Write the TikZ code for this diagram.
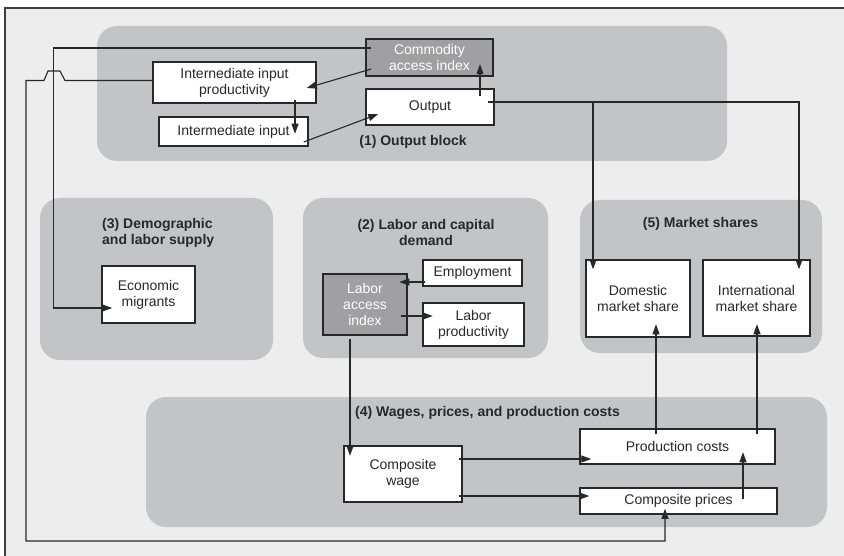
\documentclass[tikz,border=0pt]{standalone}
\usepackage{fontspec}
\setmainfont{Liberation Sans}
\usetikzlibrary{arrows.meta}
\definecolor{cBack}{RGB}{237,237,237}
\definecolor{cBlock}{RGB}{195,196,199}
\definecolor{cDark}{RGB}{160,160,163}
\definecolor{cLine}{RGB}{40,40,40}

\tikzset{
  cellbox/.style={draw=cLine, line width=1.5pt, fill=white, inner sep=0pt,
    align=center, text=cLine, font=\fontsize{14}{16}\selectfont},
  darkbox/.style={cellbox, fill=cDark, text=white},
  blocklbl/.style={inner sep=0pt, align=center, text=cLine,
    font=\bfseries\fontsize{14}{16}\selectfont},
  blockbg/.style={fill=cBlock, rounded corners=20pt},
  conn/.style={->, line width=1.1pt, draw=cLine},
  >={Triangle[length=10pt,width=7pt]}
}

\begin{document}
\begin{tikzpicture}[x=1pt,y=-1pt]
        \useasboundingbox (0,0) rectangle (844,556);
        % frame
        \fill[cBack] (5,8) rectangle (844,556);
        \draw[line width=1.5pt, cLine!90] (844,8) -- (5,8) -- (5,556);
        % blocks
        \fill[blockbg] (97,26) rectangle (727,161);
        \fill[blockbg] (40,198) rectangle (273,360);
        \fill[blockbg] (303,198) rectangle (548,358);
        \fill[blockbg] (580,200) rectangle (822,353);
        \fill[blockbg] (146,397) rectangle (827,527);
        \node[blocklbl] (lbl1) at (413,142) {(1) Output block};
        \node[blocklbl, anchor=west, align=left] (lbl3) at (102,232.5) {(3) Demographic\\and labor supply};
        \node[blocklbl] (lbl2) at (426,232.5) {(2) Labor and capital\\demand};
        \node[blocklbl] (lbl5) at (700.5,224) {(5) Market shares};
        \node[blocklbl] (lbl4) at (487.5,413) {(4) Wages, prices, and production costs};

        % (1) output block
        \node[darkbox, minimum width=127pt, minimum height=37pt] (cai) at (429.5,57.5) {Commodity\\access index};
        \node[cellbox, minimum width=163pt, minimum height=41pt] (iip) at (234.5,82.5) {Internediate input\\productivity};
        \node[cellbox, minimum width=149pt, minimum height=29pt] (ii) at (233.5,131.5) {Intermediate input};
        \node[cellbox, minimum width=128pt, minimum height=36pt] (out) at (430,107) {Output};
        % (3) demographic
        \node[cellbox, minimum width=93pt, minimum height=57pt] (em) at (148.5,294.5) {Economic\\migrants};
        % (2) labor
        \node[darkbox, minimum width=84pt, minimum height=61pt] (lai) at (365,304.5) {Labor\\access\\index};
        \node[cellbox, minimum width=99pt, minimum height=26pt] (emp) at (472.5,273) {Employment};
        \node[cellbox, minimum width=101pt, minimum height=43pt] (lp) at (473.5,324.5) {Labor\\productivity};
        % (5) market shares
        \node[cellbox, minimum width=104pt, minimum height=77pt] (dms) at (638,298.5) {Domestic\\market share};
        \node[cellbox, minimum width=107pt, minimum height=76pt] (ims) at (756.5,298) {International\\market share};
        % (4) wages and prices
        \node[cellbox, minimum width=118pt, minimum height=56pt] (cw) at (403,474) {Composite\\wage};
        \node[cellbox, minimum width=195pt, minimum height=35pt] (pc) at (677.5,446.5) {Production costs};
        \node[cellbox, minimum width=197pt, minimum height=26pt] (cp) at (678.5,501) {Composite prices};

        % links
        \draw[conn] ([shift={(6,-9.5)}]cai.west) -- ++(-318,0) |- ([shift={(11,13.5)}]em.west);
        \draw[conn] ([shift={(6,11.5)}]cai.west) -- ([shift={(-10,5.5)}]iip.east);
        \draw[conn] ([shift={(0,-2)}]iip.west) -- (65,80.5) -- (60,71) -- (48,71) -- (44,80.5)
                -- (26,80.5) -- (26,541) -| ([shift={(-13.5,-6)}]cp.south);
        \draw[conn] ([shift={(60.5,-4)}]iip.south) -- ++(0,34);
        \draw[conn] ([shift={(-5,10.5)}]ii.east) -- ([shift={(13,7)}]out.west);
        \draw[conn] ([shift={(50,8)}]out.north) -- ++(0,-32);
        \coordinate (o1) at ([shift={(-7,-5)}]out.east);
        \coordinate (dmsin) at ([shift={(-45,10)}]dms.north);
        \draw[conn] (o1) -| ([shift={(42.5,10)}]ims.north);
        \draw[conn] (o1 -| dmsin) -- (dmsin);
        \draw[conn] ([shift={(-7,11.5)}]lai.east) -- ++(32,0);
        \draw[conn] ([shift={(3,9)}]emp.west) -- ++(-26,0);
        \draw[conn] ([shift={(-15,3)}]lai.south) -- ++(0,117);
        \draw[conn] ([shift={(-4,-15)}]cw.east) -- ([shift={(12,12.5)}]pc.west);
        \draw[conn] ([shift={(-4,22)}]cw.east) -- ([shift={(10,-5)}]cp.west);
        \draw[conn] ([shift={(64.5,12)}]cp.north) -- ++(0,-47);
        \draw[conn] ([shift={(-21.5,6)}]pc.north) -- ++(0,-110);
        \draw[conn] ([shift={(79.5,6)}]pc.north) -- ++(0,-110);
\end{tikzpicture}
\end{document}
